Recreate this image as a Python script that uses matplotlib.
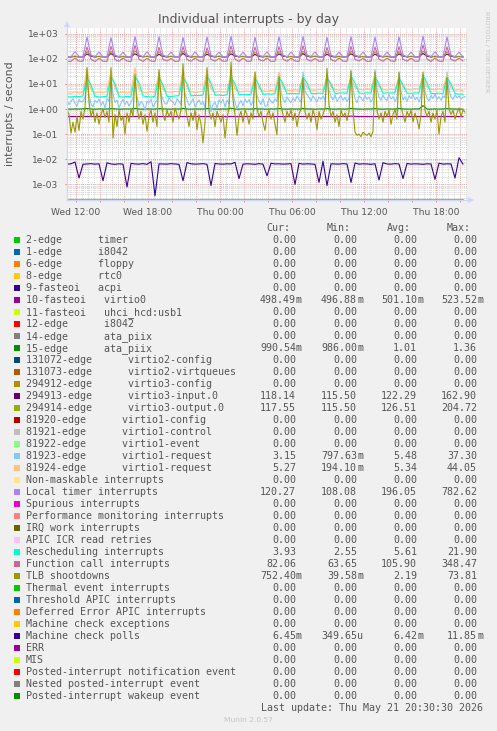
import numpy as np
import matplotlib
matplotlib.use('Agg')
import matplotlib.pyplot as plt
from matplotlib.patches import Rectangle, Polygon
from matplotlib.lines import Line2D
from matplotlib.ticker import LogLocator, FuncFormatter, NullFormatter, MultipleLocator

W, H = 497, 731

# ---------------- data ----------------
# hours counted from Wed 00:00; coarse series every 20 min, fine series every 10 min
t_start = 11.25
t_step = 1.0 / 3.0
t_step_fine = 1.0 / 6.0

virtio0 = [0.50, 0.50, 0.501, 0.50, 0.499, 0.502, 0.50, 0.50, 0.501, 0.50,
           0.50, 0.501, 0.50, 0.499, 0.50, 0.50, 0.501, 0.502, 0.50, 0.50,
           0.50, 0.499, 0.50, 0.501, 0.50, 0.50, 0.50, 0.501, 0.50, 0.502,
           0.50, 0.50, 0.499, 0.50, 0.50, 0.501, 0.50, 0.50, 0.50, 0.499,
           0.50, 0.502, 0.50, 0.50, 0.501, 0.50, 0.499, 0.50, 0.50, 0.50,
           0.501, 0.50, 0.50, 0.502, 0.50, 0.499, 0.50, 0.50, 0.501, 0.50,
           0.50, 0.50, 0.499, 0.50, 0.501, 0.502, 0.50, 0.50, 0.50, 0.501,
           0.50, 0.52, 0.505, 0.50, 0.50, 0.499, 0.50, 0.501, 0.50, 0.50,
           0.50, 0.501, 0.50, 0.502, 0.50, 0.499, 0.50, 0.50, 0.501, 0.503,
           0.50, 0.50, 0.499, 0.50, 0.501, 0.502, 0.50, 0.50, 0.50, 0.498]

ata_piix15 = [1.00, 0.99, 1.01, 1.00, 1.02, 1.05, 1.00, 0.99, 1.01, 1.00,
              1.00, 1.04, 1.01, 0.99, 1.00, 1.01, 1.00, 1.06, 1.00, 0.99,
              1.01, 1.00, 1.00, 1.03, 1.01, 1.00, 0.99, 1.01, 1.00, 1.05,
              1.00, 0.99, 1.01, 1.00, 1.00, 1.04, 1.01, 1.00, 0.99, 1.01,
              1.00, 1.08, 1.00, 0.99, 1.01, 1.00, 1.00, 1.03, 1.01, 1.00,
              0.99, 1.01, 1.00, 1.05, 1.00, 0.99, 1.01, 1.00, 1.00, 1.04,
              1.01, 1.00, 0.99, 1.01, 1.00, 1.03, 1.00, 0.99, 1.01, 1.00,
              1.00, 1.06, 1.01, 1.00, 0.99, 1.01, 1.00, 1.04, 1.00, 0.99,
              1.01, 1.00, 1.00, 1.05, 1.01, 1.00, 0.99, 1.01, 1.00, 1.36,
              1.00, 0.99, 1.01, 1.00, 1.00, 1.04, 1.01, 1.00, 0.99, 0.99]

virtio3_input = [118, 117, 124, 118, 119, 155, 126, 117, 123, 118,
                 119, 160, 125, 118, 122, 117, 118, 158, 127, 119,
                 124, 118, 117, 150, 124, 118, 123, 119, 118, 162,
                 126, 117, 122, 118, 119, 152, 125, 118, 124, 117,
                 118, 157, 127, 119, 123, 118, 117, 149, 124, 118,
                 125, 117, 118, 156, 126, 119, 122, 118, 117, 160,
                 125, 118, 124, 119, 118, 151, 124, 117, 123, 118,
                 119, 158, 126, 118, 122, 117, 118, 153, 125, 119,
                 124, 118, 117, 157, 127, 118, 123, 119, 118, 162.9,
                 126, 117, 124, 118, 119, 154, 125, 118, 122, 118.14]

virtio3_output = [117, 118, 128, 117, 118, 190, 135, 117, 127, 118,
                  117, 195, 133, 118, 126, 117, 118, 204.7, 136, 117,
                  128, 118, 117, 185, 132, 117, 127, 118, 117, 198,
                  134, 118, 126, 117, 118, 188, 133, 117, 128, 118,
                  117, 200, 136, 118, 127, 117, 118, 182, 132, 117,
                  129, 118, 117, 193, 134, 118, 126, 117, 118, 197,
                  133, 117, 128, 118, 117, 186, 132, 118, 127, 117,
                  118, 199, 135, 117, 126, 118, 117, 189, 133, 118,
                  128, 117, 118, 194, 134, 117, 127, 118, 117, 202,
                  136, 118, 128, 117, 118, 191, 133, 117, 126, 117.55]

# 81923-edge virtio1-request (10-minute samples)
virtio1_req_a = [2.2, 1.5, 2.0, 2.6, 1.7, 1.3, 2.4, 1.9, 2.1, 2.9,
                 12, 3.5, 1.6, 1.2, 2.2, 1.8, 2.5, 1.4, 2.0, 1.1,
                 2.6, 2.0, 14, 4.0, 1.8, 2.3, 1.1, 1.7, 2.4, 1.5,
                 2.1, 1.3, 1.9, 2.6, 15, 3.2, 1.3, 2.0, 1.6, 0.9,
                 2.1, 1.7, 2.5, 1.2, 1.7, 2.2, 13, 3.8, 2.4, 1.6,
                 1.6, 2.8, 2.2, 1.9, 1.4, 2.6, 2.0, 1.5, 16, 4.2,
                 2.2, 1.4, 1.8, 2.6, 1.2, 1.8, 2.3, 1.5, 2.0, 1.1,
                 14, 3.6, 0.8, 1.5, 1.9, 1.1, 2.3, 1.7, 2.5, 1.2,
                 2.3, 1.6, 18, 4.1, 1.9, 1.0, 1.6, 2.2, 1.3, 2.5,
                 1.8, 2.4, 1.4, 2.0, 15, 3.4, 2.0, 1.5, 2.6, 1.3,
                 1.3, 2.7, 2.0, 1.7, 2.5, 2.0, 22, 4.5, 2.6, 1.8,
                 3.0, 2.2, 1.8, 2.7, 2.1, 3.2, 2.4, 1.9, 30, 5.0,
                 3.8, 2.9, 2.1, 3.4, 2.5, 1.9, 3.0, 2.4, 3.3, 2.2,
                 28, 5.5, 3.2, 2.3, 3.6, 2.0, 2.7, 3.4, 2.2, 2.9,
                 2.0, 2.6, 33, 6.0, 2.6, 1.8, 3.3, 2.8, 2.1, 3.5,
                 2.4, 3.0, 1.9, 2.7, 37.3, 6.2, 3.0, 2.2, 3.6, 2.5,
                 2.2, 3.8, 2.5, 3.1, 2.0, 2.8, 26, 5.2, 2.3, 3.1,
                 2.0, 3.4, 2.6, 3.8, 2.3, 3.0, 1.9, 3.2, 24, 5.0,
                 2.7, 2.1, 3.5, 2.6, 3.9, 2.4, 3.1, 2.2, 3.3, 2.8,
                 30, 5.6, 3.0, 2.4, 3.6, 2.8, 3.3, 2.5, 2.9, 3.15]

virtio1_req_b = [4.5, 4.2, 4.8, 4.4, 4.6, 40, 6.0, 4.3, 4.7, 4.5,
                 4.9, 35, 6.5, 4.4, 4.8, 4.3, 4.6, 44, 6.0, 4.7,
                 4.4, 4.9, 4.5, 30, 6.0, 4.8, 4.6, 5.0, 4.7, 38,
                 7.0, 4.9, 4.5, 4.8, 5.1, 36, 6.5, 4.6, 5.0, 4.7,
                 4.9, 25, 6.0, 5.1, 4.8, 5.2, 4.9, 28, 6.5, 5.3,
                 5.0, 5.5, 5.2, 30, 7.0, 5.6, 5.3, 5.8, 5.4, 20,
                 7.0, 5.7, 5.5, 6.0, 5.6, 22, 7.5, 5.9, 5.5, 6.2,
                 5.8, 18, 7.0, 6.1, 5.7, 6.4, 5.9, 25, 7.5, 6.0,
                 5.6, 6.3, 5.8, 20, 7.0, 6.2, 5.7, 6.5, 6.0, 22,
                 7.5, 6.1, 5.8, 6.4, 5.9, 24, 7.0, 5.6, 5.9, 5.27]

local_timer = [121, 119, 190, 124, 122, 720, 140, 122, 185, 120,
               121, 690, 138, 121, 180, 119, 122, 760, 142, 120,
               188, 121, 119, 740, 139, 122, 182, 120, 121, 700,
               141, 119, 186, 122, 120, 730, 137, 121, 184, 120,
               122, 770, 143, 120, 181, 121, 119, 710, 138, 122,
               189, 120, 121, 740, 140, 119, 183, 121, 120, 760,
               142, 122, 187, 120, 121, 700, 139, 120, 185, 121,
               119, 750, 141, 122, 182, 120, 121, 720, 138, 119,
               186, 121, 122, 740, 140, 120, 184, 121, 119, 780,
               143, 122, 188, 120, 121, 730, 139, 121, 183, 120]

rescheduling = [3.1, 3.0, 3.2, 3.1, 3.3, 18, 9, 3.2, 3.0, 3.1,
                3.2, 19, 10, 3.1, 3.0, 3.2, 3.1, 20, 11, 3.3,
                3.1, 3.0, 3.2, 19, 9, 3.2, 3.1, 3.3, 3.4, 18,
                10, 3.3, 3.5, 3.4, 3.6, 20, 11, 3.5, 3.6, 3.4,
                3.7, 19, 10, 3.6, 3.8, 3.7, 3.9, 17, 9, 3.8,
                4.0, 3.9, 4.1, 18, 10, 4.0, 4.2, 4.1, 4.0, 19,
                11, 4.2, 4.1, 4.3, 4.2, 18, 10, 4.1, 4.3, 4.4,
                4.2, 20, 11, 4.3, 4.2, 4.4, 4.3, 19, 10, 4.2,
                4.4, 4.3, 4.5, 18, 9, 4.3, 4.2, 4.4, 4.3, 21.9,
                11, 4.2, 4.1, 4.3, 4.0, 18, 10, 4.1, 3.9, 3.93]

function_call = [80, 78, 108, 79, 81, 290, 95, 77, 104, 80,
                 78, 310, 92, 79, 106, 81, 77, 340, 96, 78,
                 105, 80, 79, 280, 94, 81, 103, 78, 80, 300,
                 93, 79, 107, 82, 78, 270, 95, 80, 104, 79,
                 81, 320, 97, 78, 106, 80, 79, 290, 92, 81,
                 108, 78, 80, 300, 96, 79, 105, 82, 78, 330,
                 94, 80, 103, 79, 81, 280, 93, 78, 107, 80,
                 79, 310, 95, 81, 104, 78, 80, 290, 96, 79,
                 106, 82, 78, 300, 94, 80, 105, 79, 81, 348,
                 97, 78, 108, 80, 79, 295, 93, 81, 104, 82]

# TLB shootdowns (10-minute samples)
tlb = [0.95, 0.6, 0.11, 0.3, 0.12, 0.5, 0.14, 0.8, 0.4, 1.1,
       45, 2.0, 0.5, 0.9, 0.3, 0.7, 0.25, 0.6, 1.0, 0.45,
       0.8, 0.3, 45, 0.07, 0.6, 0.2, 0.9, 0.35, 0.5, 0.1,
       0.7, 0.3, 1.0, 0.5, 25, 1.2, 0.4, 0.8, 0.25, 0.6,
       0.13, 0.5, 0.9, 0.3, 0.7, 0.2, 37, 3.0, 0.6, 0.35,
       0.9, 0.5, 0.8, 0.3, 1.1, 0.6, 0.4, 0.9, 64, 1.5,
       0.5, 0.2, 0.7, 0.35, 0.9, 0.15, 0.6, 0.25, 0.045, 0.3,
       45, 0.9, 0.4, 0.7, 0.2, 0.8, 0.5, 0.3, 0.6, 0.07,
       0.4, 1.2, 73.8, 2.5, 0.6, 0.09, 0.5, 0.8, 0.3, 0.9,
       0.6, 0.25, 0.7, 0.4, 30, 1.0, 0.5, 0.8, 0.3, 0.14,
       0.6, 0.9, 0.4, 0.7, 0.25, 0.095, 20, 1.3, 0.6, 0.3,
       0.8, 0.5, 0.9, 0.35, 0.7, 0.2, 0.6, 1.0, 17, 0.8,
       0.4, 0.7, 0.3, 0.9, 0.5, 0.15, 0.8, 0.4, 0.6, 1.1,
       42, 1.5, 0.5, 0.8, 0.3, 0.6, 0.2, 0.9, 0.5, 0.7,
       0.35, 0.8, 33, 0.9, 0.12, 0.09, 0.1, 0.08, 0.12, 0.1,
       0.09, 0.11, 0.08, 0.13, 30, 0.9, 0.4, 0.7, 0.3, 0.8,
       0.5, 0.9, 0.25, 0.6, 1.0, 0.4, 30, 1.2, 0.6, 0.3,
       0.8, 0.5, 0.9, 0.3, 0.7, 0.4, 0.16, 0.6, 30, 0.9,
       0.5, 0.8, 0.3, 0.7, 0.4, 0.9, 0.1, 0.5, 0.8, 0.3,
       18, 1.0, 0.6, 0.9, 0.4, 0.7, 1.1, 0.5, 0.9, 0.75]

mc_polls = [6.4e-3, 6.6e-3, 7.8e-3, 1.8e-3, 6.3e-3, 6.5e-3, 6.7e-3, 6.4e-3, 6.6e-3, 1.4e-3,
            7.2e-3, 6.5e-3, 6.3e-3, 6.6e-3, 6.4e-3, 7.9e-4, 6.9e-3, 6.5e-3, 6.4e-3, 6.7e-3,
            6.3e-3, 8.0e-3, 3.5e-4, 6.6e-3, 6.5e-3, 6.4e-3, 6.7e-3, 6.5e-3, 6.3e-3, 1.4e-3,
            7.4e-3, 6.6e-3, 6.4e-3, 6.5e-3, 6.7e-3, 6.3e-3, 9.0e-4, 6.8e-3, 6.5e-3, 6.4e-3,
            6.6e-3, 6.5e-3, 7.6e-3, 1.7e-3, 6.4e-3, 6.6e-3, 6.5e-3, 6.3e-3, 6.7e-3, 6.4e-3,
            2.2e-3, 7.0e-3, 6.5e-3, 6.6e-3, 6.4e-3, 6.5e-3, 6.7e-3, 1.0e-3, 6.9e-3, 6.4e-3,
            6.6e-3, 6.5e-3, 6.3e-3, 1.2e-3, 8.4e-3, 9.0e-4, 6.6e-3, 6.5e-3, 6.4e-3, 6.7e-3,
            6.5e-3, 1.2e-3, 7.1e-3, 6.4e-3, 6.6e-3, 6.5e-3, 6.3e-3, 6.6e-3, 1.5e-3, 7.3e-3,
            6.5e-3, 6.4e-3, 6.7e-3, 6.5e-3, 1.7e-3, 6.8e-3, 6.4e-3, 6.6e-3, 6.5e-3, 6.3e-3,
            6.6e-3, 6.5e-3, 1.6e-3, 7.0e-3, 6.4e-3, 6.6e-3, 6.5e-3, 1.8e-3, 1.15e-2, 6.45e-3]

zero_series = [0.0] * 100

# axis ticks
xtick_hours = [12, 18, 24, 30, 36, 42]
xtick_labels = ["Wed 12:00", "Wed 18:00", "Thu 00:00", "Thu 06:00", "Thu 12:00", "Thu 18:00"]
x_range = (11.25, 44.5833)
y_range = (2.4e-4, 1.67e3)

# legend table
leg_labels = [
    "2-edge      timer", "1-edge      i8042", "6-edge      floppy", "8-edge      rtc0",
    "9-fasteoi   acpi", "10-fasteoi   virtio0", "11-fasteoi   uhci_hcd:usb1",
    "12-edge      i8042", "14-edge      ata_piix", "15-edge      ata_piix",
    "131072-edge      virtio2-config", "131073-edge      virtio2-virtqueues",
    "294912-edge      virtio3-config", "294913-edge      virtio3-input.0",
    "294914-edge      virtio3-output.0", "81920-edge      virtio1-config",
    "81921-edge      virtio1-control", "81922-edge      virtio1-event",
    "81923-edge      virtio1-request", "81924-edge      virtio1-request",
    "Non-maskable interrupts", "Local timer interrupts", "Spurious interrupts",
    "Performance monitoring interrupts", "IRQ work interrupts", "APIC ICR read retries",
    "Rescheduling interrupts", "Function call interrupts", "TLB shootdowns",
    "Thermal event interrupts", "Threshold APIC interrupts", "Deferred Error APIC interrupts",
    "Machine check exceptions", "Machine check polls", "ERR", "MIS",
    "Posted-interrupt notification event", "Nested posted-interrupt event",
    "Posted-interrupt wakeup event"]
palette = ["#00CC00", "#0066B3", "#FF8000", "#FFCC00", "#330099", "#990099", "#CCFF00",
           "#FF0000", "#808080", "#008F00", "#00487D", "#B35A00", "#B38F00", "#6B006B",
           "#8FB300", "#B30000", "#BEBEBE", "#80FF80", "#80C9FF", "#FFC080", "#FFE680",
           "#AA80FF", "#EE00CC", "#FF8080", "#666600", "#FFBFFF", "#00FFCC", "#CC6699",
           "#999900"]
Z = "0.00"
leg_cur = [Z, Z, Z, Z, Z, "498.49m", Z, Z, Z, "990.54m", Z, Z, Z, "118.14", "117.55",
           Z, Z, Z, "3.15", "5.27", Z, "120.27", Z, Z, Z, Z, "3.93", "82.06", "752.40m",
           Z, Z, Z, Z, "6.45m", Z, Z, Z, Z, Z]
leg_min = [Z, Z, Z, Z, Z, "496.88m", Z, Z, Z, "986.00m", Z, Z, Z, "115.50", "115.50",
           Z, Z, Z, "797.63m", "194.10m", Z, "108.08", Z, Z, Z, Z, "2.55", "63.65", "39.58m",
           Z, Z, Z, Z, "349.65u", Z, Z, Z, Z, Z]
leg_avg = [Z, Z, Z, Z, Z, "501.10m", Z, Z, Z, "1.01", Z, Z, Z, "122.29", "126.51",
           Z, Z, Z, "5.48", "5.34", Z, "196.05", Z, Z, Z, Z, "5.61", "105.90", "2.19",
           Z, Z, Z, Z, "6.42m", Z, Z, Z, Z, Z]
leg_max = [Z, Z, Z, Z, Z, "523.52m", Z, Z, Z, "1.36", Z, Z, Z, "162.90", "204.72",
           Z, Z, Z, "37.30", "44.05", Z, "782.62", Z, Z, Z, Z, "21.90", "348.47", "73.81",
           Z, Z, Z, Z, "11.85m", Z, Z, Z, Z, Z]

# ---------------- figure ----------------
BG = "#F0F0F0"
FONTC = "#555555"
AXISC = "#CFD6F8"

fig = plt.figure(figsize=(W / 100, H / 100), dpi=100, facecolor=BG)


def fx(x):
    return x / W


def fy(y):
    return 1 - y / H


ax = fig.add_axes([fx(67), fy(200), 400 / W, 172 / H])
ax.set_facecolor("white")
ax.set_yscale("log")
ax.set_xlim(*x_range)
ax.set_ylim(*y_range)


def times(series, step):
    return t_start + np.arange(len(series)) * step


# series in munin order (later on top)
plot_series = [
    (virtio0, palette[5], t_step), (ata_piix15, palette[9], t_step),
    (virtio3_input, palette[13], t_step), (virtio3_output, palette[14], t_step),
    (virtio1_req_a, palette[18], t_step_fine), (virtio1_req_b, palette[19], t_step),
    (local_timer, palette[21], t_step), (rescheduling, palette[26], t_step),
    (function_call, palette[27], t_step), (tlb, palette[28], t_step_fine),
    (mc_polls, palette[4], t_step),
]
# zero-valued series end up on the bottom edge of the log axis
ax.plot(times(zero_series, t_step), np.maximum(np.array(zero_series), y_range[0]),
        color="#008F00", lw=1.6, alpha=0.5, zorder=2)
for s, c, st in plot_series:
    ax.plot(times(s, st), s, color=c, lw=0.8, zorder=3)

# grid
ax.yaxis.set_major_locator(LogLocator(base=10, numticks=20))
ax.yaxis.set_minor_locator(LogLocator(base=10, subs=np.arange(2, 10), numticks=20))
ax.yaxis.set_minor_formatter(NullFormatter())
ax.yaxis.set_major_formatter(FuncFormatter(lambda v, p: f"{v:.0e}"))
ax.xaxis.set_major_locator(MultipleLocator(2))
ax.xaxis.set_minor_locator(MultipleLocator(0.5))
lab_map = dict(zip(xtick_hours, xtick_labels))
ax.xaxis.set_major_formatter(FuncFormatter(
    lambda v, p: lab_map.get(int(round(v)), "") if abs(v - round(v)) < 1e-6 else ""))

ax.set_axisbelow(True)
ax.grid(which="minor", color="#D4D4D4", linestyle=(0, (1, 1)), lw=0.7)
ax.grid(which="major", color="#EBA0A0", linestyle=(0, (1, 1)), lw=0.7)

ax.tick_params(axis="both", which="major", length=1.5, width=0.7, color="#E08080",
               labelsize=6.6, labelcolor=FONTC)
ax.tick_params(axis="both", which="minor", length=0)
ax.tick_params(axis="y", pad=4.5)
ax.tick_params(axis="x", pad=4.0)
for sp in ("top", "right"):
    ax.spines[sp].set_visible(False)
ax.spines["left"].set_color(AXISC)
ax.spines["bottom"].set_color(AXISC)
ax.spines["left"].set_linewidth(0.8)
ax.spines["bottom"].set_linewidth(0.8)

# axis arrows
fig.add_artist(Line2D([fx(67), fx(67)], [fy(200), fy(24)], color=AXISC, lw=0.8,
                      transform=fig.transFigure))
fig.add_artist(Polygon([(fx(64), fy(27)), (fx(70), fy(27)), (fx(67), fy(21))], closed=True,
                       facecolor=AXISC, edgecolor="none", transform=fig.transFigure))
fig.add_artist(Line2D([fx(67), fx(470)], [fy(200), fy(200)], color=AXISC, lw=0.8,
                      transform=fig.transFigure, zorder=0))
fig.add_artist(Polygon([(fx(468), fy(197)), (fx(468), fy(203)), (fx(474), fy(200))], closed=True,
                       facecolor=AXISC, edgecolor="none", transform=fig.transFigure))

# titles
fig.text(fx(248.5), fy(19.5), "Individual interrupts - by day", ha="center", va="center",
         fontsize=9, color=FONTC)
fig.text(fx(10), fy(114), "interrupts / second", ha="center", va="center", rotation=90,
         fontsize=7.9, color=FONTC)
fig.text(fx(487), fy(52), "RRDTOOL / TOBI OETIKER", ha="center", va="center", rotation=270,
         fontsize=4.6, color="#C4C4C4")

# legend
MONO = "DejaVu Sans Mono"
LFS = 7.2
row0 = 239.7
base_off = 3.6
for hdr, xr in zip(["Cur:", "Min:", "Avg:", "Max:"], [290, 351, 411, 471]):
    fig.text(fx(xr), fy(227.7 + base_off), hdr, ha="right", va="baseline",
             fontfamily=MONO, fontsize=LFS, color=FONTC)

col_ends = [302, 363, 423, 483]
for k, lab in enumerate(leg_labels):
    yc = row0 + 12 * k
    col = palette[k % len(palette)]
    fig.add_artist(Rectangle((fx(14), fy(yc + 3)), 6 / W, 6 / H, transform=fig.transFigure,
                             facecolor=col, edgecolor="none"))
    fig.text(fx(26), fy(yc + base_off), lab, ha="left", va="baseline",
             fontfamily=MONO, fontsize=LFS, color=FONTC)
    for vals, xe in zip((leg_cur, leg_min, leg_avg, leg_max), col_ends):
        v = vals[k]
        if v[-1].isalpha():
            num, suf = v[:-1], v[-1]
        else:
            num, suf = v, ""
        fig.text(fx(xe - 6), fy(yc + base_off), num, ha="right", va="baseline",
                 fontfamily=MONO, fontsize=LFS, color=FONTC)
        if suf:
            fig.text(fx(xe - 6), fy(yc + base_off), suf, ha="left", va="baseline",
                     fontfamily=MONO, fontsize=LFS, color=FONTC)

fig.text(fx(483), fy(707.7 + base_off), "Last update: Thu May 21 20:30:30 2026", ha="right",
         va="baseline", fontfamily=MONO, fontsize=LFS, color=FONTC)
fig.text(fx(248), fy(720), "Munin 2.0.57", ha="center", va="center", fontsize=5.4,
         color="#C4C4C4")

fig.savefig("out.png", dpi=100, facecolor=BG)
